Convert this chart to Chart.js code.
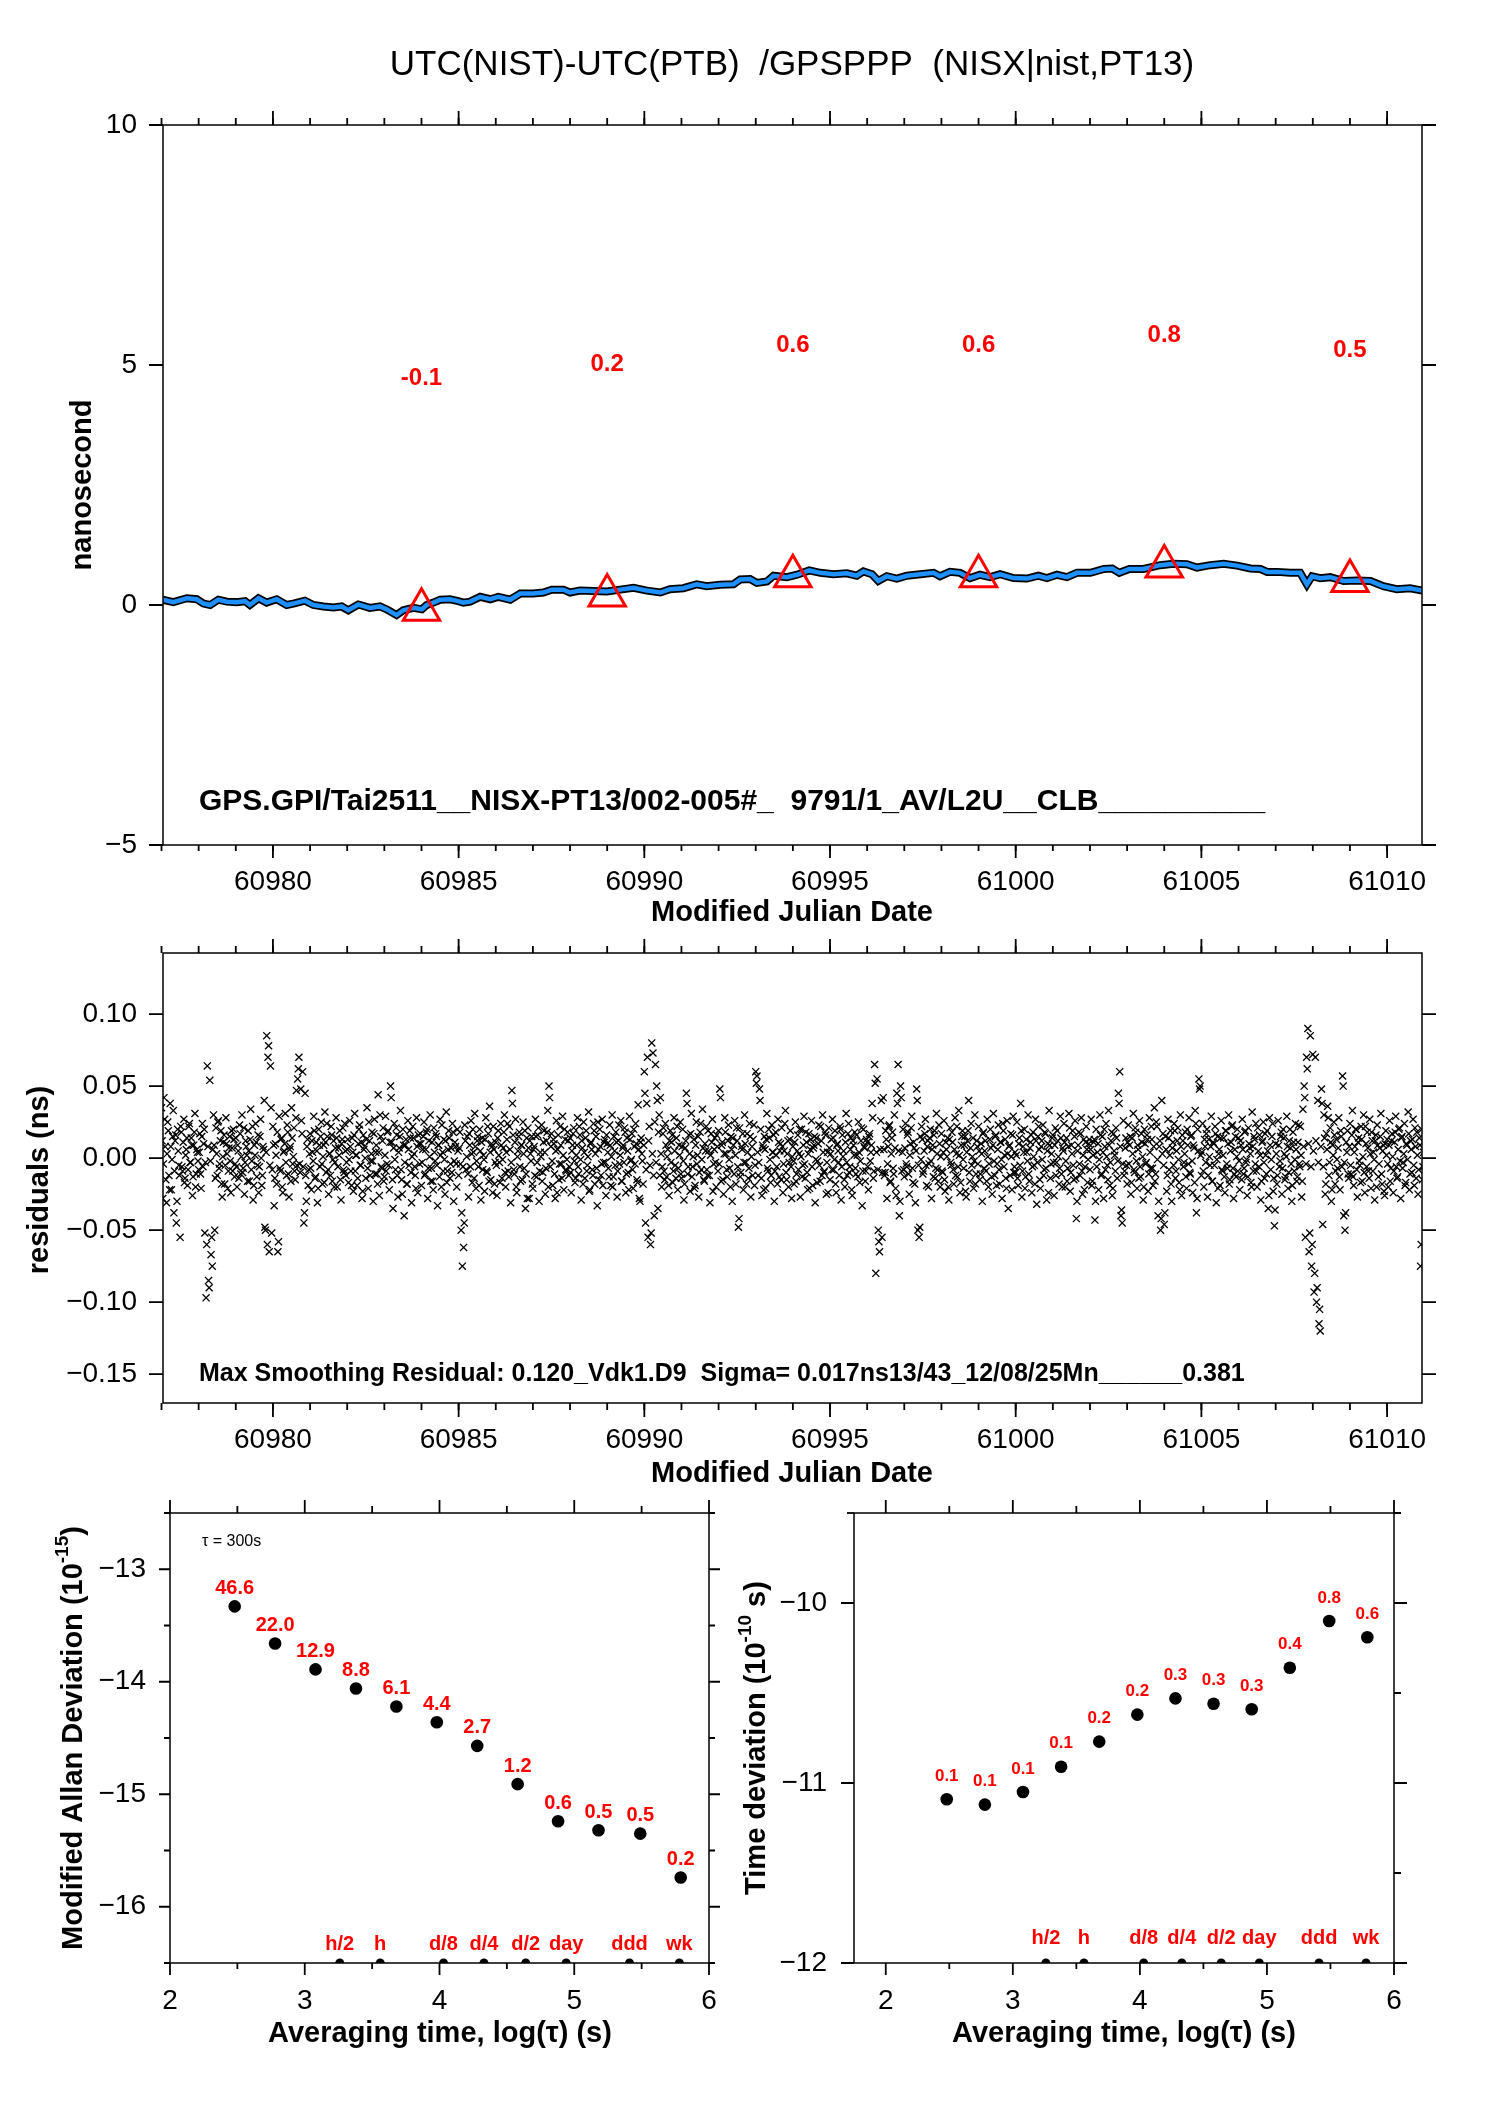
<!DOCTYPE html>
<html><head><meta charset="utf-8">
<script src="https://cdn.jsdelivr.net/npm/chart.js@4.4.1/dist/chart.umd.min.js"></script>
<style>
html,body{margin:0;padding:0;background:#fff;}
#wrap{position:relative;width:1488px;height:2105px;overflow:hidden;background:#fff;}
canvas{position:absolute;left:0;top:0;}
</style></head><body><div id="wrap">
<canvas id="c1" width="1488" height="2105"></canvas>
<canvas id="c2" width="1488" height="2105"></canvas>
<canvas id="c3" width="1488" height="2105"></canvas>
<canvas id="c4" width="1488" height="2105"></canvas>
</div>
<script>
// ---------------- DATA ----------------
const mjdTicks = [60980, 60985, 60990, 60995, 61000, 61005, 61010];
const nsTicks = [-5, 0, 5, 10];
const residTicks = [-0.15, -0.10, -0.05, 0, 0.05, 0.10];

// smoothed UTC(NIST)-UTC(PTB) curve (blue)
const smoothMjd = [60977.03,60977.32,60977.68,60977.95,60978.13,60978.31,60978.53,60978.76,60979.02,60979.25,60979.38,60979.61,60979.83,60980.10,60980.37,60980.55,60980.86,60981.09,60981.36,60981.63,60981.85,60982.03,60982.30,60982.61,60982.88,60983.06,60983.33,60983.51,60983.78,60984.01,60984.14,60984.32,60984.50,60984.77,60984.99,60985.13,60985.31,60985.58,60985.85,60986.07,60986.39,60986.66,60987.01,60987.28,60987.51,60987.82,60988.00,60988.27,60988.63,60988.99,60989.35,60989.71,60990.07,60990.43,60990.69,60991.05,60991.41,60991.68,60992.04,60992.40,60992.58,60992.85,60993.03,60993.30,60993.48,60993.84,60994.11,60994.44,60994.74,60995.09,60995.45,60995.72,60995.90,60996.13,60996.30,60996.53,60996.80,60997.07,60997.43,60997.79,60997.96,60998.23,60998.50,60998.77,60999.04,60999.31,60999.58,60999.94,61000.30,61000.61,61000.84,61001.11,61001.38,61001.65,61002.01,61002.37,61002.60,61002.79,61003.06,61003.44,61003.89,61004.25,61004.61,61004.88,61005.24,61005.60,61005.96,61006.32,61006.59,61006.77,61007.04,61007.39,61007.66,61007.84,61007.98,61008.20,61008.47,61008.83,61009.19,61009.55,61009.90,61010.26,61010.62,61010.95];
const smoothNs = [0.11,0.06,0.14,0.12,0.03,0.00,0.11,0.07,0.06,0.08,0.00,0.14,0.05,0.12,0.00,0.03,0.09,0.00,-0.03,-0.05,-0.03,-0.11,0.01,-0.06,-0.03,-0.09,-0.21,-0.11,-0.06,-0.09,0.00,0.05,0.11,0.12,0.08,0.05,0.07,0.17,0.12,0.17,0.11,0.24,0.24,0.26,0.32,0.32,0.26,0.30,0.29,0.28,0.32,0.36,0.30,0.26,0.33,0.35,0.43,0.39,0.42,0.43,0.53,0.54,0.46,0.49,0.61,0.58,0.63,0.72,0.67,0.64,0.66,0.61,0.70,0.64,0.50,0.60,0.55,0.61,0.64,0.67,0.60,0.69,0.67,0.56,0.63,0.58,0.64,0.56,0.55,0.61,0.56,0.63,0.58,0.67,0.67,0.75,0.76,0.67,0.75,0.75,0.83,0.86,0.85,0.78,0.83,0.86,0.82,0.76,0.75,0.69,0.69,0.67,0.67,0.43,0.60,0.56,0.58,0.50,0.51,0.50,0.39,0.33,0.35,0.30];

// red triangle markers and their values
const markerMjd = [60984, 60989, 60994, 60999, 61004, 61009];
const markerNs = [-0.1, 0.2, 0.6, 0.6, 0.8, 0.5];

// residuals (ps): two interleaved sample sets, 30 per day each, from MJD 60977
const residStart = 60977;
const residPerDay = 30;
const residPsA = [
 35,-28,42,8,-31,25,-12,38,-22,15,-38,12,-45,20,-5,-55,18,-9,27,-14,6,-19,22,-3,14,-26,9,31,-11,4,
 -8,17,-21,24,10,-52,-97,64,-85,54,-67,-75,30,-50,21,-12,26,-4,19,-27,11,-18,28,3,-9,15,-24,7,20,-13,
 14,-20,5,23,-11,30,-7,-25,12,2,19,-16,34,-2,-29,9,24,-13,16,-6,27,-19,8,40,-50,85,70,-65,64,-52,
 22,-33,10,-18,-65,29,-9,14,-24,5,31,-12,18,-27,8,35,-4,21,-15,47,55,70,-10,26,60,-45,45,-30,13,-8,
 17,-22,4,29,-14,11,-31,20,-6,25,-18,9,32,-10,15,-25,3,22,-16,12,-3,28,-20,7,19,-29,13,-8,24,-12,
 6,-17,26,-9,14,-23,31,2,-19,10,23,-5,-28,16,8,-14,35,-21,12,-2,18,-30,27,4,-11,44,-26,15,-7,21,
 -13,29,-4,19,-22,50,11,-35,24,-8,16,-27,7,33,-15,20,-40,9,-18,26,-5,14,-31,22,3,-12,28,-24,10,17,
 -19,6,25,-11,18,-28,12,30,-7,-16,21,-2,15,-33,9,27,-20,4,13,-25,32,-9,19,-14,7,24,-30,11,-4,20,
 -12,18,-50,-75,-62,23,-8,15,-27,9,26,-17,4,31,-21,12,-6,20,-29,14,2,-23,28,-10,17,36,-15,8,22,-18,
 11,-26,19,-3,24,-14,7,30,-20,13,-9,22,-31,47,16,-11,27,-24,5,18,-16,9,25,-7,-35,14,21,-28,3,15,
 -21,8,27,-13,16,-30,4,23,-10,19,-25,12,33,50,-6,17,-19,10,-28,26,6,-15,22,-4,29,-22,13,-9,18,-12,
 14,-24,9,21,-17,2,28,-11,16,-29,7,25,-14,19,-5,32,-22,11,-8,24,-18,15,-33,6,20,-12,27,-3,13,-26,
 10,-7,23,-19,30,-13,5,18,-27,12,-4,26,-16,9,21,-24,14,-10,29,-2,17,-21,8,24,-15,37,-28,11,3,-18,
 60,-45,38,-55,22,-60,80,73,-40,65,50,-35,30,42,-20,17,-9,24,-13,6,-26,19,11,-17,28,-5,14,-22,9,25,
 -14,20,-29,7,45,-11,16,-23,31,-6,13,-19,25,2,-27,18,-8,34,-15,10,22,-12,5,-31,17,27,-4,14,-20,8,
 19,48,-16,11,-25,28,3,-13,23,-7,15,-30,9,26,-18,12,-48,21,-10,6,-22,30,-3,17,-14,24,-27,8,13,-19,
 60,57,-12,48,20,-26,7,15,-21,31,-9,14,-17,23,4,-30,18,-6,27,-13,10,21,-24,5,33,-15,12,-3,19,-28,
 8,-18,25,-11,16,3,-27,20,-5,29,-14,11,-22,17,6,26,-19,9,-31,14,-2,23,-16,12,30,-10,18,-25,4,21,
 -15,13,27,-8,19,-24,10,-3,22,-29,16,5,-20,31,-12,24,-6,14,-26,9,18,-11,2,25,-17,12,-33,20,7,-9,
 11,-22,17,4,38,-14,65,-80,55,-50,-65,26,-55,42,-12,19,-28,8,23,-16,14,-7,30,-21,45,65,-40,50,-9,20,
 -13,24,-6,18,-25,10,29,-17,7,-31,48,-50,-55,15,22,-11,5,27,-19,12,-4,20,-28,9,16,-14,31,-8,23,-20,
 17,-10,26,-23,6,14,-29,21,-5,11,-18,28,3,-13,33,-24,9,19,-7,15,-27,12,40,-16,24,1,-21,30,-11,8,
 22,-15,10,-30,18,5,-9,27,-20,13,7,-25,31,-12,16,-4,23,-18,11,-28,19,2,-14,26,-35,9,17,-22,29,-6,
 -10,25,-19,14,38,-27,8,20,-13,4,30,-16,11,-24,18,-5,27,-32,15,6,-21,12,23,-8,17,-29,10,33,-14,3,
 16,-26,21,-3,12,-18,29,-11,7,24,-20,14,-7,31,-23,9,19,-15,26,-42,5,18,-12,28,-25,13,-6,22,-17,10,
 -8,27,-16,11,-43,20,4,-22,30,-12,15,-28,8,24,-5,33,-19,12,-26,17,2,21,-14,45,60,-40,-45,26,-9,14,
 -18,23,9,-25,14,31,-10,18,-21,6,26,-13,11,-29,20,-4,16,-23,28,-7,13,-19,35,-11,22,-40,8,-50,40,17,
 -46,15,-23,27,-8,19,-30,11,24,-14,5,21,-17,30,-26,12,-3,18,-21,9,28,-11,16,-24,7,33,-38,20,55,50,
 -12,24,-20,8,17,-27,13,-5,29,-16,10,22,-31,15,3,-19,26,-9,14,-24,19,-7,30,-15,11,23,-28,6,-13,20,
 14,-22,9,27,-11,18,-3,-26,21,7,-17,32,-9,13,24,-20,5,16,-29,11,25,-14,2,19,-35,28,-8,15,-23,-47,
 10,-18,26,-6,15,-25,20,3,-13,29,-21,12,7,-30,18,-9,24,-16,11,-4,22,-27,34,50,-55,70,90,-65,85,-75,
 72,-93,70,-100,40,-115,-120,48,-46,30,-25,17,36,-12,21,-30,9,25,-18,13,-7,28,-22,15,57,-40,-50,11,19,-14,
 24,-11,33,-19,8,20,-27,14,-5,22,-16,30,-24,10,18,-9,27,-21,12,4,-29,16,23,-13,7,31,-18,9,-26,19,
 13,-20,26,-7,17,-24,11,29,-14,6,21,-28,15,-3,24,-17,9,32,-22,12,-10,27,-19,8,18,-25,14,-75,20,-6
];
const residPsB = [
 12,-4,27,-15,3,19,-22,8,-1,33,-9,16,-30,5,-12,22,-6,11,-17,2,14,-8,24,-3,9,-13,18,-20,6,-2,
 4,-11,15,-6,20,-3,-60,8,-90,-2,-55,6,9,-14,3,25,-7,12,-18,1,16,-5,10,-21,7,-2,19,-9,13,-4,
 -6,9,-14,17,1,-10,21,-3,8,-16,5,13,-8,22,-19,2,11,-5,-24,15,0,-12,6,-48,4,-60,78,-5,35,-8,
 9,-14,2,18,-58,-7,13,-20,4,10,-3,23,-11,6,-16,14,1,-9,28,-5,62,-4,48,17,-6,-38,-12,8,-19,3,
 -7,12,-2,19,-13,5,-21,9,15,-4,1,-17,11,24,-8,3,-12,16,-1,-20,7,14,-6,2,-15,10,21,-10,5,-3,
 13,-1,8,-19,4,16,-9,2,-14,20,-5,11,-23,6,0,13,-7,25,-12,3,-2,17,-11,9,-18,4,30,-6,12,-16,
 2,-9,18,-5,11,42,-15,7,-1,21,-12,4,15,-8,-25,9,-3,13,-18,6,19,-10,1,14,-6,-21,8,16,-4,10,
 -3,15,-12,6,20,-7,1,-16,11,-22,4,17,-5,9,-13,2,23,-9,-1,12,-17,6,14,-4,-10,18,-2,8,-20,5,
 7,-4,-38,-6,-45,12,1,-11,17,-6,3,20,-14,8,-2,15,-19,5,11,-8,-1,13,-9,22,-16,4,10,-24,6,-3,
 -5,14,2,-17,9,-1,18,-10,4,24,-13,6,-3,38,-8,11,-20,1,15,-6,9,-15,3,19,-11,-28,7,12,-2,-18,
 6,-12,15,-3,21,-9,1,-16,11,4,-7,18,-20,42,8,-2,13,-11,5,-24,16,-4,9,-14,2,20,-8,-1,12,-6,
 -10,5,17,-2,-14,9,-6,22,-1,12,-18,4,14,-9,1,-23,10,6,-12,19,3,-7,25,-15,8,-4,-19,11,-3,16,
 4,-13,9,1,-20,15,-5,11,-9,23,2,-16,7,-3,18,-11,5,-22,13,-1,-8,20,-4,10,-17,6,-30,14,-2,9,
 45,-8,70,12,-5,-52,3,-12,25,-3,40,18,-12,3,-6,21,-15,9,1,-19,12,-3,16,-9,5,-14,22,-7,2,-11,
 8,-2,-18,12,38,-6,3,17,-13,1,-21,9,-4,15,-10,24,-1,7,-16,5,-8,19,-12,2,11,-23,6,-3,16,-9,
 -4,42,9,-15,3,18,-8,12,-1,-20,6,14,-11,2,21,-6,-42,-13,8,17,-3,10,-18,4,-7,15,1,-12,23,-5,
 52,4,-3,40,-14,9,-22,6,13,-7,20,-1,-12,4,16,-9,2,-18,11,5,-15,8,-4,24,-10,3,-20,13,-6,1,
 -2,11,-16,5,-8,20,1,-13,9,-4,18,-10,3,-21,13,-6,7,15,-1,-17,10,-5,22,-12,4,-9,16,-3,-24,7,
 3,-8,14,-1,-18,9,5,-12,20,-6,1,-15,11,-3,17,-10,6,-22,12,2,-7,16,-13,4,-2,21,-9,8,-16,13,
 -6,15,-2,9,28,-9,52,4,-8,-58,6,40,-10,6,-10,13,-4,22,-17,3,18,-11,7,-26,38,5,-30,42,4,-8,
 7,-4,16,-11,2,21,-7,11,-18,5,40,-5,-48,-1,13,-9,17,-5,8,-20,14,-2,6,-13,19,-7,3,-16,10,1,
 -9,4,-15,11,1,-20,13,-3,18,-8,6,-12,22,-6,2,-17,15,-1,9,-23,4,19,-10,7,-5,14,-2,-18,12,-4,
 5,-11,3,17,-7,12,-16,1,-4,20,-13,9,-2,15,-19,6,-8,11,-1,24,-6,13,-21,3,8,-12,1,16,-10,4,
 2,-14,10,-5,19,-9,4,-21,13,-2,-11,7,16,-6,1,-18,12,-3,22,-15,8,-1,-12,18,-7,5,-24,9,-4,14,
 -3,9,-12,19,1,-7,14,-20,5,11,-2,-16,8,21,-10,3,-5,15,-14,-30,9,-4,17,-9,2,-22,11,6,-1,13,
 6,-19,2,13,-30,-6,10,-1,16,-11,4,20,-8,1,-15,9,-3,18,-21,5,-9,14,-2,38,8,-36,-4,-12,7,-5,
 11,-4,15,-17,3,-8,21,-2,9,-14,-6,17,1,-20,10,-3,13,-11,4,22,-7,8,-16,25,-1,-30,12,-42,3,-5,
 -38,6,-12,14,2,-18,7,-5,19,-9,12,-1,-22,8,16,-6,3,-13,20,-4,-10,15,-2,9,-17,24,-28,5,48,2,
 4,-9,13,-3,20,-12,1,8,-16,11,-5,17,-1,-21,6,14,-8,2,-13,19,-4,10,-18,5,22,-7,-11,15,1,-9,
 -2,12,-15,6,-7,19,-1,-13,10,3,-20,8,15,-4,-9,21,-6,2,-16,12,-3,17,-11,5,-26,9,-1,24,-14,-36,
 3,-12,9,-2,18,-7,14,-15,1,8,-10,20,-4,-19,11,-1,6,-13,23,-6,2,-16,8,42,-4,62,10,-52,-6,-60,
 5,-80,12,-90,-3,-105,8,38,-6,14,-18,6,28,-3,11,-22,2,16,-9,-1,7,-13,19,-6,50,-3,-38,4,-11,8,
 -5,16,-13,4,20,-8,11,-2,-17,13,1,-10,22,-6,7,-14,3,18,-9,-1,12,-20,9,-4,15,-11,5,-23,10,2,
 -4,9,-16,12,1,-9,18,-6,-13,20,-2,14,-7,3,-19,10,-1,17,-11,6,13,-5,21,-14,2,-8,9,-60,-15,4
];

// stability plots
const logTauTicks = [2, 3, 4, 5, 6];
const logTau = [2.48, 2.78, 3.08, 3.38, 3.68, 3.98, 4.28, 4.58, 4.88, 5.18, 5.49, 5.79];
const mdevLog = [-13.33, -13.66, -13.89, -14.06, -14.22, -14.36, -14.57, -14.91, -15.24, -15.32, -15.35, -15.74];
const mdevLabels = ['46.6','22.0','12.9','8.8','6.1','4.4','2.7','1.2','0.6','0.5','0.5','0.2'];
const mdevTicks = [-16, -15, -14, -13];
const tdevLog = [-11.09, -11.12, -11.05, -10.91, -10.77, -10.62, -10.53, -10.56, -10.59, -10.36, -10.10, -10.19];
const tdevLabels = ['0.1','0.1','0.1','0.1','0.2','0.2','0.3','0.3','0.3','0.4','0.8','0.6'];
const tdevTicks = [-12, -11, -10];
const spanNames = ['h/2','h','d/8','d/4','d/2','day','ddd','wk'];
const spanLogTau = [3.26, 3.56, 4.03, 4.33, 4.64, 4.94, 5.41, 5.78];

// ---------------- RENDERING ----------------
const W = 1488, H = 2105;
const YBOX = 120, XBOX = 70;
const FONT = "'Liberation Sans', Arial, Helvetica, sans-serif";
const minus = s => String(s).replace('-', '\u2212');
const range = (a, b, st) => { const r = []; for (let v = a; v <= b + 1e-9; v += st) r.push(Math.round(v * 1000) / 1000); return r; };

function drawRich(ctx, parts, x, y, rot, align) {
  ctx.save(); ctx.translate(x, y); if (rot) ctx.rotate(rot);
  let w = 0; for (const p of parts) { ctx.font = p.font; w += ctx.measureText(p.t).width; }
  let cx = align === 'left' ? 0 : -w / 2;
  ctx.textAlign = 'left'; ctx.textBaseline = 'middle';
  for (const p of parts) { ctx.font = p.font; ctx.fillStyle = p.color || '#000'; ctx.fillText(p.t, cx, p.dy || 0); cx += ctx.measureText(p.t).width; }
  ctx.restore();
}

function framePlugin(cfg) {
  return {
    id: 'frame',
    afterDraw(chart) {
      const { ctx, chartArea: a, scales } = chart;
      ctx.save();
      ctx.strokeStyle = '#000'; ctx.lineWidth = 1.5;
      ctx.strokeRect(a.left, a.top, a.right - a.left, a.bottom - a.top);
      ctx.lineWidth = 1.8;
      for (const t of cfg.ticks) {
        const sc = t.side === 'top' || t.side === 'bottom' ? scales.x : scales.y;
        ctx.beginPath();
        for (const v of t.vals) {
          const p = sc.getPixelForValue(v);
          if (t.side === 'top') { ctx.moveTo(p, a.top); ctx.lineTo(p, a.top - t.len); }
          if (t.side === 'bottom') { ctx.moveTo(p, a.bottom); ctx.lineTo(p, a.bottom + t.len); }
          if (t.side === 'left') { ctx.moveTo(a.left, p); ctx.lineTo(a.left - t.len, p); }
          if (t.side === 'right') { ctx.moveTo(a.right, p); ctx.lineTo(a.right + t.len, p); }
        }
        ctx.stroke();
      }
      for (const tx of cfg.texts) drawRich(ctx, tx.parts, tx.x, tx.y, tx.rot, tx.align);
      for (const g of cfg.labels || []) {
        ctx.font = g.font; ctx.fillStyle = g.color; ctx.textAlign = 'center'; ctx.textBaseline = 'middle';
        g.xs.forEach((xv, i) => {
          const px = scales.x.getPixelForValue(xv);
          const py = scales.y.getPixelForValue(g.ys[i]) + g.dy;
          ctx.fillText(g.labels[i], px, py);
        });
      }
      ctx.restore();
    }
  };
}

function options(o) {
  return {
    responsive: false, animation: false, devicePixelRatio: 1,
    layout: { autoPadding: false, padding: { left: o.area[0] - YBOX, top: o.area[1], right: W - o.area[2], bottom: H - o.area[3] - XBOX } },
    plugins: { legend: { display: false }, tooltip: { enabled: false }, title: { display: false } },
    scales: {
      x: {
        type: 'linear', position: 'bottom', min: o.xmin, max: o.xmax,
        afterBuildTicks: s => { s.ticks = o.xticks.map(v => ({ value: v })); },
        afterFit: s => { s.height = XBOX; },
        grid: { display: false, drawTicks: false }, border: { display: false },
        ticks: { autoSkip: false, maxRotation: 0, minRotation: 0, padding: o.xpad, color: '#000',
          font: { family: FONT, size: o.tick }, callback: o.xfmt }
      },
      y: {
        type: 'linear', position: 'left', min: o.ymin, max: o.ymax,
        afterBuildTicks: s => { s.ticks = o.yticks.map(v => ({ value: v })); },
        afterFit: s => { s.width = YBOX; },
        grid: { display: false, drawTicks: false }, border: { display: false },
        ticks: { autoSkip: false, padding: o.ypad, color: '#000',
          font: { family: FONT, size: o.tick }, callback: o.yfmt }
      }
    }
  };
}

const B29 = `bold 29px ${FONT}`;
const dayTicks = range(60977, 61010, 1);

// ---- Chart 1: time series ----
const smoothPts = smoothMjd.map((x, i) => ({ x, y: smoothNs[i] }));
new Chart(document.getElementById('c1'), {
  type: 'scatter',
  data: { datasets: [
    { data: markerMjd.map((x, i) => ({ x, y: markerNs[i] })), pointStyle: 'triangle', pointRadius: 21,
      borderColor: '#ff0000', borderWidth: 3, backgroundColor: 'rgba(0,0,0,0)', showLine: false },
    { data: smoothPts, showLine: true, borderColor: '#1e90ff', borderWidth: 4.5, pointRadius: 0, tension: 0 },
    { data: smoothPts, showLine: true, borderColor: '#000000', borderWidth: 8, pointRadius: 0, tension: 0 }
  ] },
  options: options({ area: [163, 125, 1422, 845], xmin: 60977.04, xmax: 61010.94, ymin: -5, ymax: 10,
    xticks: mjdTicks, yticks: nsTicks, xpad: 20, ypad: 26, tick: 28, xfmt: v => String(v), yfmt: v => minus(v) }),
  plugins: [framePlugin({
    ticks: [
      { side: 'top', vals: mjdTicks, len: 14 }, { side: 'top', vals: dayTicks, len: 7 },
      { side: 'bottom', vals: mjdTicks, len: 13 }, { side: 'bottom', vals: dayTicks, len: 6 },
      { side: 'left', vals: nsTicks, len: 14 }, { side: 'right', vals: nsTicks, len: 14 }
    ],
    texts: [
      { parts: [{ t: 'UTC(NIST)-UTC(PTB)  /GPSPPP  (NISX|nist,PT13)', font: `35px ${FONT}` }], x: 792, y: 65 },
      { parts: [{ t: 'nanosecond', font: B29 }], x: 83, y: 485, rot: -Math.PI / 2 },
      { parts: [{ t: 'Modified Julian Date', font: B29 }], x: 792, y: 913 },
      { parts: [{ t: 'GPS.GPI/Tai2511__NISX-PT13/002-005#_  9791/1_AV/L2U__CLB__________', font: `bold 30px ${FONT}` }], x: 199, y: 802, align: 'left' }
    ],
    labels: [{ xs: markerMjd, ys: markerNs, labels: markerNs.map(v => v.toFixed(1)), dy: -231,
      font: `bold 24px ${FONT}`, color: '#ff0000' }]
  })]
});

// ---- Chart 2: residuals ----
const residPts = residPsA.map((v, i) => ({ x: residStart + i / residPerDay, y: v / 1000 }))
  .concat(residPsB.map((v, i) => ({ x: residStart + (i + 0.5) / residPerDay, y: v / 1000 })));
new Chart(document.getElementById('c2'), {
  type: 'scatter',
  data: { datasets: [
    { data: residPts, pointStyle: 'crossRot',
      pointRadius: 5, borderColor: '#000', borderWidth: 1.3, backgroundColor: '#000', clip: 0 }
  ] },
  options: options({ area: [163, 953, 1422, 1403], xmin: 60977.04, xmax: 61010.94, ymin: -0.170, ymax: 0.1424,
    xticks: mjdTicks, yticks: residTicks, xpad: 20, ypad: 26, tick: 28, xfmt: v => String(v), yfmt: v => minus(v.toFixed(2)) }),
  plugins: [framePlugin({
    ticks: [
      { side: 'top', vals: mjdTicks, len: 14 }, { side: 'top', vals: dayTicks, len: 7 },
      { side: 'bottom', vals: mjdTicks, len: 14 }, { side: 'bottom', vals: dayTicks, len: 7 },
      { side: 'left', vals: residTicks, len: 14 }, { side: 'right', vals: residTicks, len: 14 }
    ],
    texts: [
      { parts: [{ t: 'residuals (ns)', font: B29 }], x: 40, y: 1180, rot: -Math.PI / 2 },
      { parts: [{ t: 'Modified Julian Date', font: B29 }], x: 792, y: 1474 },
      { parts: [{ t: 'Max Smoothing Residual: 0.120_Vdk1.D9  Sigma= 0.017ns13/43_12/08/25Mn______0.381', font: `bold 25px ${FONT}` }], x: 199, y: 1374, align: 'left' }
    ]
  })]
});

// ---- Chart 3: MDEV ----
const halfX = [2.5, 3.5, 4.5, 5.5];
new Chart(document.getElementById('c3'), {
  type: 'scatter',
  data: { datasets: [
    { data: logTau.map((x, i) => ({ x, y: mdevLog[i] })), pointRadius: 6.3, backgroundColor: '#000', borderColor: '#000', borderWidth: 0 },
    { data: spanLogTau.map(x => ({ x, y: -16.5 })), pointRadius: 4.5, backgroundColor: '#000', borderColor: '#000', borderWidth: 0, clip: 0 }
  ] },
  options: options({ area: [170, 1513, 709, 1963], xmin: 2, xmax: 6, ymin: -16.5, ymax: -12.5,
    xticks: logTauTicks, yticks: mdevTicks, xpad: 21, ypad: 24, tick: 28, xfmt: v => String(v), yfmt: v => minus(v) }),
  plugins: [framePlugin({
    ticks: [
      { side: 'top', vals: logTauTicks, len: 13 }, { side: 'top', vals: halfX, len: 7 },
      { side: 'bottom', vals: logTauTicks, len: 12 }, { side: 'bottom', vals: halfX, len: 6 },
      { side: 'left', vals: mdevTicks, len: 11 }, { side: 'left', vals: [-16.5, -15.5, -14.5, -13.5, -12.5], len: 6 },
      { side: 'right', vals: mdevTicks, len: 11 }, { side: 'right', vals: [-16.5, -15.5, -14.5, -13.5, -12.5], len: 6 }
    ],
    texts: [
      { parts: [{ t: 'Modified Allan Deviation (10', font: B29 }, { t: '-15', font: `bold 19px ${FONT}`, dy: -11 }, { t: ')', font: B29 }], x: 74, y: 1738, rot: -Math.PI / 2 },
      { parts: [{ t: 'Averaging time, log(\u03c4) (s)', font: B29 }], x: 440, y: 2034 },
      { parts: [{ t: '\u03c4 = 300s', font: `16px ${FONT}` }], x: 202, y: 1542, align: 'left' }
    ],
    labels: [
      { xs: logTau, ys: mdevLog, labels: mdevLabels, dy: -18, font: `bold 20px ${FONT}`, color: '#ff0000' },
      { xs: spanLogTau, ys: spanLogTau.map(() => -16.5), labels: spanNames, dy: -19, font: `bold 20px ${FONT}`, color: '#ff0000' }
    ]
  })]
});

// ---- Chart 4: TDEV ----
new Chart(document.getElementById('c4'), {
  type: 'scatter',
  data: { datasets: [
    { data: logTau.map((x, i) => ({ x, y: tdevLog[i] })), pointRadius: 6.3, backgroundColor: '#000', borderColor: '#000', borderWidth: 0 },
    { data: spanLogTau.map(x => ({ x, y: -12 })), pointRadius: 4.5, backgroundColor: '#000', borderColor: '#000', borderWidth: 0, clip: 0 }
  ] },
  options: options({ area: [854, 1513, 1394, 1963], xmin: 1.75, xmax: 6, ymin: -12, ymax: -9.5,
    xticks: logTauTicks, yticks: tdevTicks, xpad: 21, ypad: 27, tick: 28, xfmt: v => String(v), yfmt: v => minus(v) }),
  plugins: [framePlugin({
    ticks: [
      { side: 'top', vals: logTauTicks, len: 13 }, { side: 'top', vals: halfX, len: 7 },
      { side: 'bottom', vals: logTauTicks, len: 12 }, { side: 'bottom', vals: halfX, len: 6 },
      { side: 'left', vals: tdevTicks, len: 13 }, { side: 'left', vals: [-9.5], len: 7 },
      { side: 'right', vals: tdevTicks, len: 13 }, { side: 'right', vals: [-11.5, -10.5, -9.5], len: 7 }
    ],
    texts: [
      { parts: [{ t: 'Time deviation (10', font: B29 }, { t: '-10', font: `bold 19px ${FONT}`, dy: -11 }, { t: ' s)', font: B29 }], x: 757, y: 1738, rot: -Math.PI / 2 },
      { parts: [{ t: 'Averaging time, log(\u03c4) (s)', font: B29 }], x: 1124, y: 2034 }
    ],
    labels: [
      { xs: logTau, ys: tdevLog, labels: tdevLabels, dy: -23, font: `bold 17px ${FONT}`, color: '#ff0000' },
      { xs: spanLogTau, ys: spanLogTau.map(() => -12), labels: spanNames, dy: -25, font: `bold 20px ${FONT}`, color: '#ff0000' }
    ]
  })]
});
</script>
</body></html>
